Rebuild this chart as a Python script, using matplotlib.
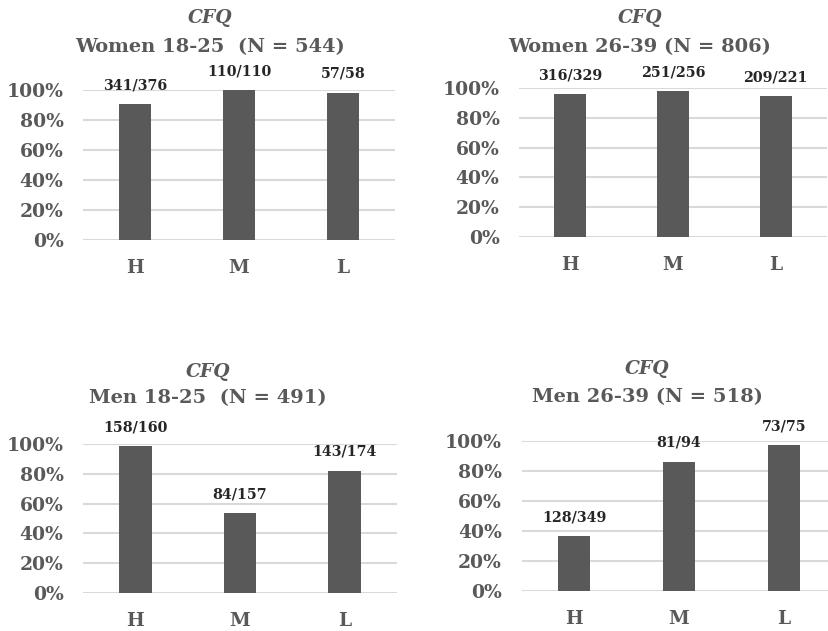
import matplotlib
matplotlib.use("Agg")
import matplotlib.pyplot as plt

categories = ["H", "M", "L"]
titles = ["Women 18-25  (N = 544)", "Women 26-39 (N = 806)",
          "Men 18-25  (N = 491)", "Men 26-39 (N = 518)"]
numerators = [[341, 110, 57], [316, 251, 209], [158, 84, 143], [128, 81, 73]]
denominators = [[376, 110, 58], [329, 256, 221], [160, 157, 174], [349, 94, 75]]
yticks = [0, 0.2, 0.4, 0.6, 0.8, 1.0]
ytick_labels = ["0%", "20%", "40%", "60%", "80%", "100%"]

W, H = 829, 631
DPI = 100
FONT = "DejaVu Serif"
GRAY = "#595959"

# axes boxes in pixels: left, right, y of 0%, y of 100%
boxes = [(83, 395, 240, 90), (519, 827, 237, 88),
         (83, 397, 593, 444), (521.5, 836.5, 591, 441)]
# title positions in pixels: center x, y of CFQ, y of line 2
title_pos = [(210, 18, 47), (640, 18, 47), (208, 372, 398), (647, 369, 397)]

fig = plt.figure(figsize=(W / DPI, H / DPI), dpi=DPI)

for i in range(4):
    l, r, y0, y1 = boxes[i]
    ax = fig.add_axes([l / W, (H - y0) / H, (r - l) / W, (y0 - y1) / H])
    vals = [n / d for n, d in zip(numerators[i], denominators[i])]
    x = list(range(len(categories)))
    ax.bar(x, vals, width=0.31, color=GRAY, zorder=3)
    ax.set_xlim(-0.5, 2.5)
    ax.set_ylim(0, 1.0)
    ax.set_yticks(yticks)
    ax.set_yticklabels(ytick_labels, fontfamily=FONT, fontweight="bold",
                       fontsize=13.5, color=GRAY)
    ax.set_xticks(x)
    ax.set_xticklabels(categories, fontfamily=FONT, fontweight="bold",
                       fontsize=13.5, color=GRAY)
    ax.tick_params(axis="y", length=0, pad=14)
    ax.tick_params(axis="x", length=0, pad=14)
    for s in ax.spines.values():
        s.set_visible(False)
    ax.yaxis.grid(True, color="#d9d9d9", linewidth=1.5, zorder=0)
    ax.set_axisbelow(True)
    for xi, v, n, d in zip(x, vals, numerators[i], denominators[i]):
        ax.annotate(f"{n}/{d}", (xi, v), xytext=(0, 13.5),
                    textcoords="offset points", ha="center", va="center",
                    fontfamily=FONT, fontweight="bold", fontsize=10.3,
                    color="#262626", annotation_clip=False)
    cx, ya, yb = title_pos[i]
    fig.text(cx / W, (H - ya) / H, "CFQ", ha="center", va="center",
             fontfamily=FONT, fontweight="bold", fontstyle="italic",
             fontsize=13.5, color=GRAY)
    fig.text(cx / W, (H - yb) / H, titles[i], ha="center", va="center",
             fontfamily=FONT, fontweight="bold", fontsize=14, color=GRAY)

fig.savefig("out.png", dpi=DPI)
